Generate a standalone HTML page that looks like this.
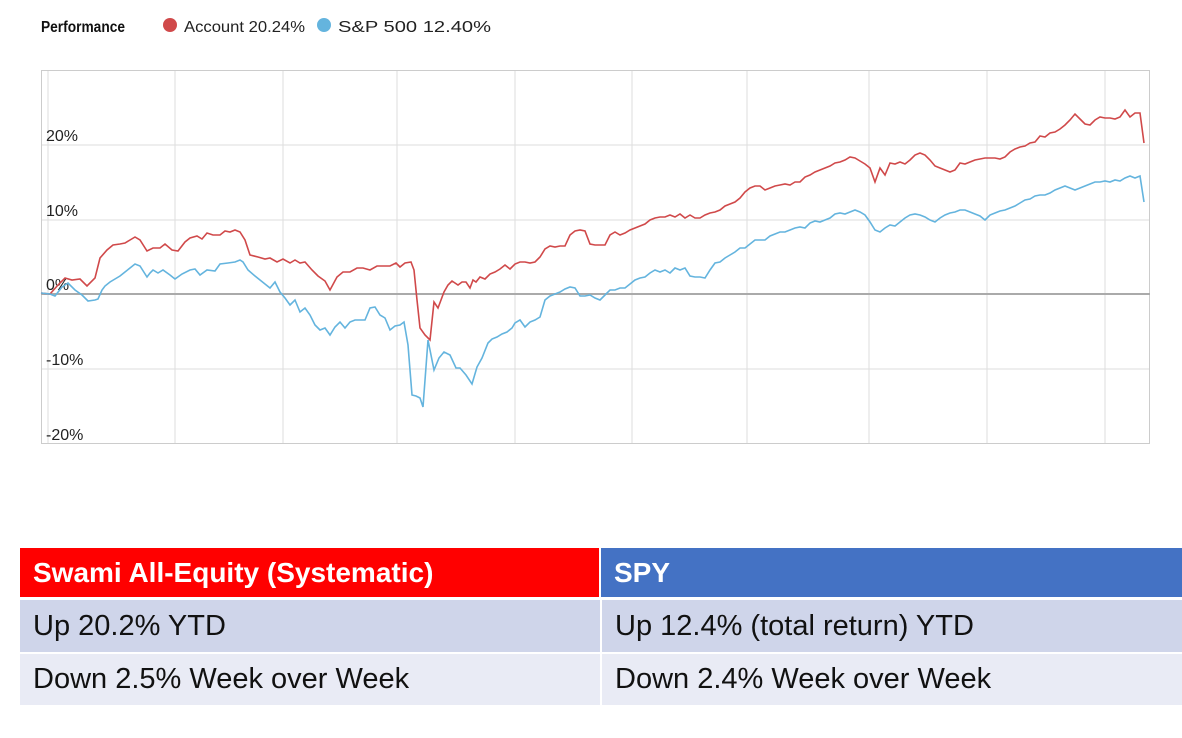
<!DOCTYPE html>
<html><head><meta charset="utf-8"><style>
body{margin:0;width:1182px;height:738px;background:#fff;font-family:"Liberation Sans",sans-serif;position:relative;overflow:hidden}
.t{position:absolute;left:20px;top:548px;width:1162px}
.r{position:absolute;left:0;width:1162px;display:flex}
.c{box-sizing:border-box;padding-left:13px;display:flex;align-items:center;font-size:29px}
</style></head><body>
<svg width="1182" height="460" style="position:absolute;left:0;top:0" font-family="Liberation Sans, sans-serif">
<text x="41" y="32" font-size="16" font-weight="bold" fill="#111" textLength="84" lengthAdjust="spacingAndGlyphs">Performance</text>
<circle cx="170" cy="25" r="7" fill="#d0494a"/>
<text x="184" y="32" font-size="16" fill="#222" textLength="121" lengthAdjust="spacingAndGlyphs">Account  20.24%</text>
<circle cx="324" cy="25" r="7" fill="#64b4de"/>
<text x="338" y="32" font-size="16" fill="#222" textLength="153" lengthAdjust="spacingAndGlyphs">S&amp;P 500  12.40%</text>
<g stroke="#ddd" stroke-width="1">
<line x1="48" y1="70" x2="48" y2="443"/><line x1="175" y1="70" x2="175" y2="443"/><line x1="283" y1="70" x2="283" y2="443"/><line x1="397" y1="70" x2="397" y2="443"/><line x1="515" y1="70" x2="515" y2="443"/><line x1="632" y1="70" x2="632" y2="443"/><line x1="747" y1="70" x2="747" y2="443"/><line x1="869" y1="70" x2="869" y2="443"/><line x1="987" y1="70" x2="987" y2="443"/><line x1="1105" y1="70" x2="1105" y2="443"/>
<line x1="41" y1="145" x2="1150" y2="145"/><line x1="41" y1="220" x2="1150" y2="220"/><line x1="41" y1="369" x2="1150" y2="369"/>
</g>
<rect x="41.5" y="70.5" width="1108" height="373" fill="none" stroke="#ccc"/>
<line x1="41" y1="294" x2="1150" y2="294" stroke="#aaa" stroke-width="2"/>
<g font-size="16" fill="#222">
<text x="46" y="141">20%</text><text x="46" y="216">10%</text><text x="46" y="290">0%</text><text x="46" y="365">-10%</text><text x="46" y="440">-20%</text>
</g>
<polyline fill="none" stroke="#d0494a" stroke-width="1.6" points="41,293 50,294 58,285 65,278 72,280 80,279 87,286 95,278 100,258 107,250 113,245 120,244 125,243 130,240 135,237 140,240 147,251 153,248 160,248 165,244 172,250 178,251 185,242 190,238 197,236 202,239 207,233 213,235 220,235 225,231 230,232 235,230 240,232 245,240 250,255 258,257 265,259 270,258 277,262 283,259 290,263 295,260 300,263 305,262 312,270 318,276 325,281 330,290 337,277 343,272 350,272 357,268 363,268 370,270 377,266 383,266 390,266 396,263 400,267 405,263 411,262 414,270 417,300 420,328 425,335 430,340 434,302 438,308 444,292 448,285 452,281 458,285 462,282 466,282 470,288 473,280 476,282 480,277 485,279 490,274 495,272 500,269 505,265 510,269 515,264 520,262 525,262 530,263 535,262 540,257 545,249 550,246 555,247 560,246 565,246 570,235 575,231 580,230 585,231 590,244 595,245 600,245 605,245 610,235 615,232 620,235 625,233 630,230 635,228 640,226 645,224 650,220 655,218 660,217 665,217 670,215 675,217 680,214 685,218 690,215 695,218 700,218 705,215 710,213 715,212 720,210 725,206 730,204 735,202 740,198 745,192 750,188 755,186 760,186 765,190 770,188 775,186 780,185 785,184 790,185 795,182 800,182 805,177 810,175 815,172 820,170 825,168 830,166 835,163 840,162 845,160 850,157 855,158 860,161 865,164 870,168 875,182 880,168 885,175 890,163 895,164 900,162 905,164 910,160 915,155 920,153 925,155 930,160 935,166 940,168 945,170 950,172 955,170 960,163 965,164 970,162 975,160 980,159 985,158 990,158 995,158 1000,159 1005,157 1010,152 1015,149 1020,147 1025,146 1030,143 1035,142 1040,136 1045,137 1050,133 1055,132 1060,129 1065,125 1070,120 1075,114 1080,119 1085,124 1090,125 1095,120 1100,117 1105,118 1110,118 1115,119 1120,117 1125,110 1130,117 1135,113 1140,113 1144,143"/>
<polyline fill="none" stroke="#64b4de" stroke-width="1.6" points="41,293 50,294 55,296 62,287 68,283 75,290 82,295 88,301 95,300 98,299 102,290 105,286 110,282 115,279 120,276 125,272 130,268 135,264 140,266 147,277 150,273 153,270 158,273 163,270 170,275 175,279 182,274 190,270 195,269 200,275 207,270 215,271 220,264 228,263 235,262 240,260 243,262 248,270 255,276 260,280 265,284 270,288 275,282 280,292 285,298 290,305 295,300 300,312 305,308 310,315 315,325 320,330 325,328 330,335 335,327 340,322 345,328 350,322 355,320 360,320 365,320 370,308 375,307 380,315 385,318 390,330 395,326 400,325 404,322 408,345 412,395 416,396 420,398 423,407 428,340 434,370 439,358 444,352 450,355 456,368 460,368 466,375 472,384 477,367 482,358 488,343 492,339 497,337 502,334 507,332 512,328 515,323 520,320 525,327 530,322 535,320 540,317 545,300 550,296 555,294 560,292 565,289 570,287 575,288 580,296 585,296 590,295 595,298 600,300 605,295 610,290 615,290 620,288 625,288 630,284 635,280 640,278 645,277 650,273 655,270 660,272 665,270 670,273 675,268 680,270 685,268 690,276 695,277 700,277 705,278 710,270 715,263 720,262 725,258 730,255 735,252 740,248 745,248 750,244 755,240 760,240 765,240 770,236 775,234 780,232 785,232 790,230 795,228 800,227 805,228 810,223 815,221 820,222 825,220 830,218 835,214 840,213 845,214 850,212 855,210 860,212 865,215 870,222 875,230 880,232 885,228 890,225 895,226 900,222 905,218 910,215 915,214 920,215 925,217 930,220 935,222 940,218 945,215 950,213 955,212 960,210 965,210 970,212 975,214 980,216 985,220 990,215 995,213 1000,211 1005,210 1010,208 1015,206 1020,203 1025,200 1030,199 1035,196 1040,195 1045,195 1050,193 1055,190 1060,188 1065,186 1070,188 1075,190 1080,188 1085,186 1090,184 1095,182 1100,182 1105,181 1110,182 1115,180 1120,181 1125,178 1130,176 1135,178 1140,176 1144,202"/>
</svg>
<div class="t">
<div class="r" style="top:0;height:49px">
<div class="c" style="width:580px;background:#ff0000;color:#fff;font-weight:bold;font-size:28px">Swami All-Equity (Systematic)</div>
<div class="c" style="width:582px;background:#4472c4;color:#fff;font-weight:bold;font-size:28px;margin-left:2px">SPY</div>
</div>
<div class="r" style="top:52px;height:52px">
<div class="c" style="width:580px;background:#cfd5ea;color:#111">Up 20.2% YTD</div>
<div class="c" style="width:580px;background:#cfd5ea;color:#111;margin-left:2px">Up 12.4% (total return) YTD</div>
</div>
<div class="r" style="top:106px;height:51px">
<div class="c" style="width:580px;background:#e9ebf5;color:#111">Down 2.5% Week over Week</div>
<div class="c" style="width:580px;background:#e9ebf5;color:#111;margin-left:2px">Down 2.4% Week over Week</div>
</div>
</div>
</body></html>
